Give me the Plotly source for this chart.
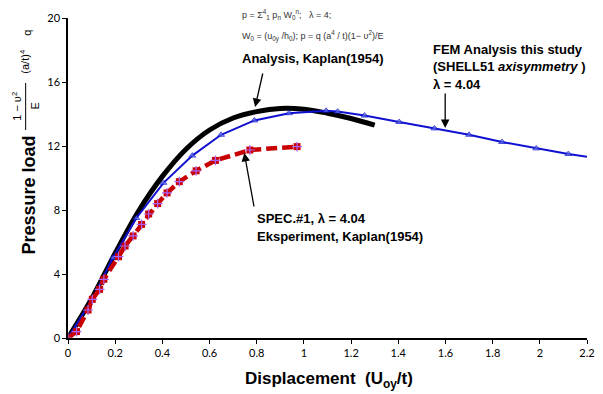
import plotly.graph_objects as go

# ---------------- data ----------------
fem_x = [0, 0.1, 0.19, 0.29, 0.405, 0.527, 0.649, 0.79, 0.937, 1.094, 1.143, 1.257,
         1.404, 1.553, 1.70, 1.84, 1.985, 2.121, 2.2]
fem_y = [0, 2.35, 5.0, 7.5, 9.7, 11.4, 12.7, 13.6, 14.05, 14.2, 14.15, 13.9,
         13.5, 13.1, 12.7, 12.25, 11.85, 11.5, 11.33]

kap_x = [0, 0.1, 0.2, 0.3, 0.4, 0.5, 0.6, 0.7, 0.8, 0.9, 1.0, 1.1, 1.2, 1.3]
kap_y = [0, 2.45, 5.3, 7.95, 10.1, 11.8, 13.0, 13.75, 14.15, 14.35, 14.3, 14.05, 13.72, 13.3]

exp_x = [0, 0.036, 0.085, 0.103, 0.134, 0.152, 0.214, 0.242, 0.276, 0.312, 0.342,
         0.38, 0.42, 0.472, 0.543, 0.625, 0.771, 0.971]
exp_y = [0, 0.4, 1.75, 2.42, 3.04, 3.67, 5.08, 5.75, 6.38, 7.1, 7.75,
         8.4, 9.07, 9.77, 10.45, 11.1, 11.75, 11.96]

x_ticks = [0, 0.2, 0.4, 0.6, 0.8, 1.0, 1.2, 1.4, 1.6, 1.8, 2.0, 2.2]
x_tick_labels = ["0", "0.2", "0.4", "0.6", "0.8", "1", "1.2", "1.4", "1.6", "1.8", "2", "2.2"]
y_ticks = [0, 4, 8, 12, 16, 20]
y_tick_labels = ["0", "4", "8", "12", "16", "20"]

# ---------------- layout helpers ----------------
W, H = 603, 394
L, R, T, B = 68, 8, 18, 56
PW, PH = W - L - R, H - T - B


def px(x):
    return (x - L) / PW


def py(y):
    return (H - B - y) / PH


fig = go.Figure()

# Black analysis curve
fig.add_trace(go.Scatter(x=kap_x, y=kap_y, mode="lines",
                         line=dict(color="black", width=5, shape="spline", smoothing=1.0),
                         showlegend=False, hoverinfo="skip"))

# Blue FEM curve
fem_sizes = [6] * (len(fem_x) - 1) + [0]
fig.add_trace(go.Scatter(x=fem_x, y=fem_y, mode="lines+markers",
                         line=dict(color="#1010d0", width=2),
                         marker=dict(symbol="triangle-up", size=fem_sizes, color="#5a70e0"),
                         showlegend=False, hoverinfo="skip"))

# Red experimental curve
fig.add_trace(go.Scatter(x=exp_x, y=exp_y, mode="lines+markers",
                         line=dict(color="#c80000", width=4.5, dash="11px,5px"),
                         marker=dict(symbol="square", size=7, color="#c80000"),
                         showlegend=False, hoverinfo="skip"))
fig.add_trace(go.Scatter(x=exp_x, y=exp_y, mode="markers",
                         marker=dict(symbol="cross-thin-open", size=7,
                                     line=dict(color="#6a7fd0", width=1.2)),
                         showlegend=False, hoverinfo="skip"))

FONT = "Liberation Sans, Arial, sans-serif"
anns = []


def text(x, y, s, size=13, color="black", xanchor="left", angle=0):
    anns.append(dict(xref="paper", yref="paper", x=px(x), y=py(y), text=s,
                     showarrow=False, xanchor=xanchor, yanchor="middle",
                     textangle=angle,
                     font=dict(family=FONT, size=size, color=color)))


def arrow(x0, y0, x1, y1):
    anns.append(dict(xref="paper", yref="paper", x=px(x1), y=py(y1),
                     axref="pixel", ayref="pixel", ax=x0 - x1, ay=y0 - y1,
                     text="", showarrow=True, arrowhead=2, arrowsize=1.3,
                     arrowwidth=1.3, arrowcolor="black"))


# formula text
text(243, 14, "p = Σ<sup>4</sup><sub>1</sub> p<sub>n</sub> W<sub>0</sub><sup>n</sup>;   λ = 4;",
     size=9, color="#333333")
text(243, 36, "W<sub>0</sub> = (u<sub>0y</sub> /h<sub>0</sub>); p = q (a<sup>4</sup> / t)(1− υ<sup>2</sup>)/E",
     size=9, color="#333333")
text(243, 58, "<b>Analysis, Kaplan(1954)</b>", size=13)
arrow(266, 72, 258, 107)

# FEM
text(437, 50, "<b>FEM Analysis this study</b>", size=13)
text(437, 67, "<b>(SHELL51 <i>axisymmetry</i> )</b>", size=13)
text(437, 84, "<b>λ = 4.04</b>", size=13)
arrow(451, 92, 451, 128)

# SPEC
text(258, 218, "<b>SPEC.#1, λ = 4.04</b>", size=13)
text(258, 236, "<b>Eksperiment, Kaplan(1954)</b>", size=13)
arrow(257, 208, 247, 153)

# y title
text(28, 195, "<b>Pressure load</b>", size=18, xanchor="center", angle=-90)
# formula in y title
text(16, 106, "1 − υ<sup>2</sup>", size=11, xanchor="center", angle=-90)
text(34, 106, "E", size=11, xanchor="center", angle=-90)
text(24, 61, "(a/t)<sup>4</sup>", size=11, xanchor="center", angle=-90)
text(26, 33, "q", size=11, xanchor="center", angle=-90)

# x title
text(333, 380, "<b>Displacement  (U<sub>oy</sub>/t)</b>", size=17, xanchor="center")

fig.add_shape(type="line", xref="paper", yref="paper",
              x0=px(25), x1=px(25), y0=py(83), y1=py(130),
              line=dict(color="black", width=1))

fig.update_layout(
    width=W, height=H,
    margin=dict(l=L, r=R, t=T, b=B),
    paper_bgcolor="white", plot_bgcolor="white",
    annotations=anns,
    showlegend=False,
    xaxis=dict(range=[0, 2.2], tickvals=x_ticks, ticktext=x_tick_labels,
               showgrid=False, zeroline=False, showline=True, linecolor="black",
               linewidth=1.5, ticks="outside", ticklen=4, tickcolor="black",
               tickfont=dict(family="Lato, sans-serif", size=11, color="black")),
    yaxis=dict(range=[0, 20], tickvals=y_ticks, ticktext=y_tick_labels,
               showgrid=False, zeroline=False, showline=True, linecolor="black",
               linewidth=1.5, ticks="outside", ticklen=4, tickcolor="black",
               tickfont=dict(family="Lato, sans-serif", size=11, color="black")),
)

fig.write_html("out.html", config={"displayModeBar": False},
               post_script="document.body.style.margin='0';")
